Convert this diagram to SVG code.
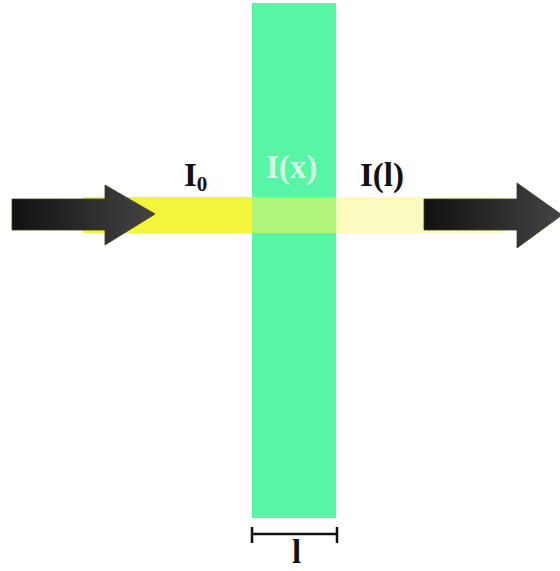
<svg xmlns="http://www.w3.org/2000/svg" width="560" height="571" viewBox="0 0 560 571">
<defs>
<linearGradient id="ag" x1="0" y1="0" x2="1" y2="0">
<stop offset="0" stop-color="#111111"/>
<stop offset="1" stop-color="#444444"/>
</linearGradient>
<style>
.lbl{font-family:"Liberation Serif","Times New Roman",serif;font-weight:bold;font-size:33px;fill:#111}
.arrow{fill:url(#ag);stroke:#3a3a1a;stroke-width:0.8}
</style>
</defs>
<rect width="560" height="571" fill="#ffffff"/>
<g id="beam-in"><rect x="83" y="197" width="169" height="36" fill="#f2f53a"/></g>
<g id="slab"><rect x="252" y="3" width="84" height="515" fill="#57f5a5"/><rect x="252" y="197" width="84" height="36" fill="#b0f57a"/></g>
<g id="beam-out"><rect x="336" y="197" width="170" height="36" fill="#fbfbc0"/></g>
<g id="arrow-in"><polygon class="arrow" points="12,199 105,199 105,185 155,214 105,245 105,230 12,230"/></g>
<g id="arrow-out"><polygon class="arrow" points="424,199 517,199 517,183 562,215 517,248 517,230 424,230"/></g>
<g id="labels">
<text class="lbl" x="184" y="186">I<tspan font-size="21" dy="5">0</tspan></text>
<text class="lbl" x="266" y="178" style="fill:#d4fbe4">I(x)</text>
<text class="lbl" x="360" y="186">I(l)</text>
<text class="lbl" x="292" y="563">l</text>
</g>
<g id="connectors" stroke="#111" stroke-width="2.5" fill="none">
<path d="M252 534H337M252 527V543M337 527V543"/>
</g>
</svg>
